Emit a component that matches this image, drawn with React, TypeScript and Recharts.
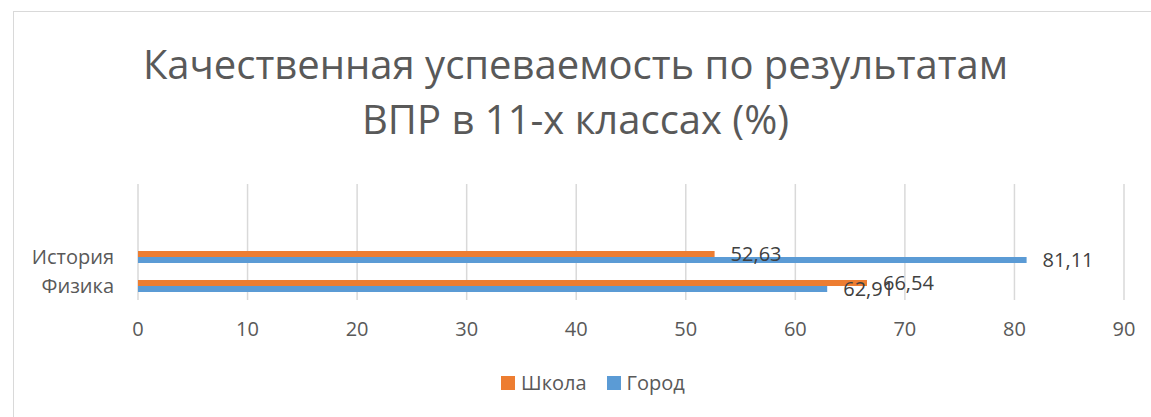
import { BarChart, Bar, XAxis, YAxis, CartesianGrid, LabelList } from 'recharts';

const categories = ['История', 'Физика'];
const school = [52.63, 66.54];
const city = [81.11, 62.91];
const xTicks = [0, 10, 20, 30, 40, 50, 60, 70, 80, 90];
const seriesNames = ['Школа', 'Город'];
const colors = ['#ED7D31', '#5B9BD5'];
const titleLines = ['Качественная успеваемость по результатам', 'ВПР в 11-х классах (%)'];

const data = categories.map((name, i) => ({ name, school: school[i], city: city[i] }));

const fmt = (v: any) => String(v).replace('.', ',');
const font = '"Open Sans", sans-serif';

export default function App() {
  return (
    <div style={{ position: 'absolute', left: 0, top: 0, width: 1151, height: 417, overflow: 'hidden', background: '#fff', fontFamily: font }}>
      <div style={{ position: 'absolute', left: 13, top: 11, width: 1160, height: 420, border: '1px solid #d9d9d9', boxSizing: 'border-box' }} />
      <div style={{ position: 'absolute', left: 0, top: 36, width: 1151, textAlign: 'center', fontSize: 40, lineHeight: '55px', color: '#595959' }}>
        {titleLines.map((t) => <div key={t}>{t}</div>)}
      </div>
      <div style={{ position: 'absolute', left: 0, top: 0 }}>
        <BarChart width={1151} height={417} data={data} layout="vertical" barSize={6} barGap={0}
          margin={{ top: 184, right: 27, bottom: 87, left: 0 }}>
          <CartesianGrid horizontal={false} stroke="#d9d9d9" strokeWidth={1.5} />
          <XAxis type="number" domain={[0, 90]} ticks={xTicks} axisLine={false} tickLine={false}
            tickSize={0} tickMargin={22} height={30} interval={0}
            tick={{ fill: '#595959', fontSize: 20, fontFamily: font }} />
          <YAxis type="category" dataKey="name" width={138} axisLine={false} tickLine={false}
            tickSize={0} tickMargin={24} padding={{ top: 58, bottom: 0 }} interval={0}
            tick={{ fill: '#595959', fontSize: 20, fontFamily: font }} />
          <Bar dataKey="school" name={seriesNames[0]} fill={colors[0]} isAnimationActive={false}>
            <LabelList dataKey="school" position="right" offset={16} formatter={fmt}
              style={{ fill: '#404040', fontSize: 20, fontFamily: font }} />
          </Bar>
          <Bar dataKey="city" name={seriesNames[1]} fill={colors[1]} isAnimationActive={false}>
            <LabelList dataKey="city" position="right" offset={16} formatter={fmt}
              style={{ fill: '#404040', fontSize: 20, fontFamily: font }} />
          </Bar>
        </BarChart>
      </div>
      <div style={{ position: 'absolute', left: 501, top: 369, display: 'flex', alignItems: 'center', fontSize: 20, color: '#595959', lineHeight: '28px' }}>
        {seriesNames.map((n, i) => (
          <div key={n} style={{ display: 'flex', alignItems: 'center', marginRight: 20 }}>
            <span style={{ width: 14, height: 14, background: colors[i], marginRight: 6, display: 'inline-block' }} />
            <span>{n}</span>
          </div>
        ))}
      </div>
    </div>
  );
}
